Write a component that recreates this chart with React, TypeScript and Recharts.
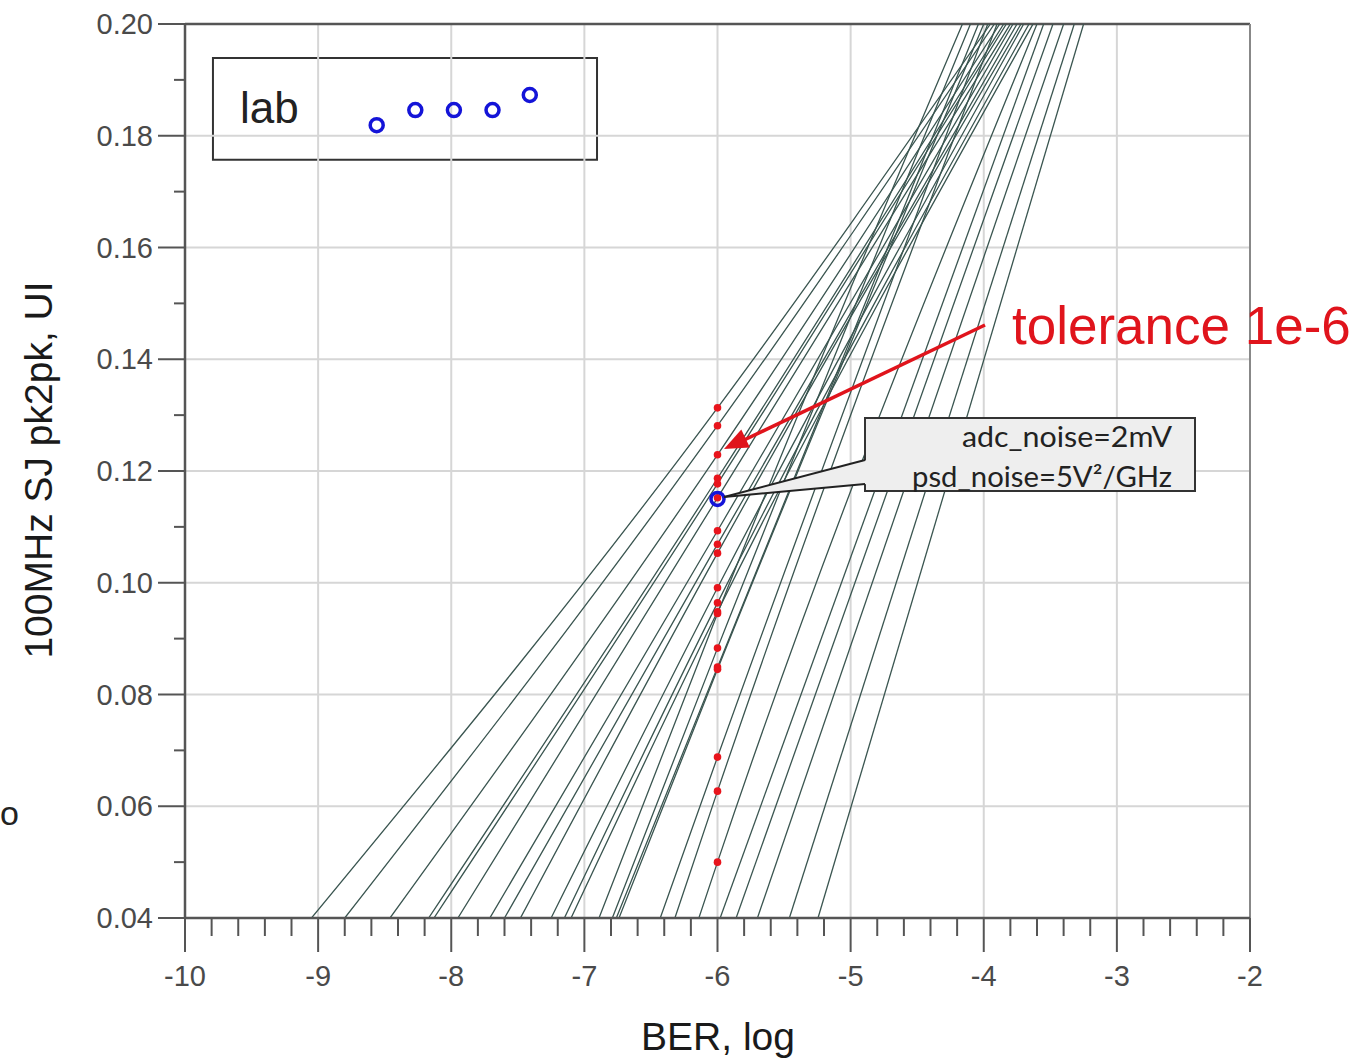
import React from 'react';
import {
  ComposedChart, Line, Scatter, XAxis, YAxis, ReferenceLine, ReferenceArea
} from 'recharts';

// BER (log) where each simulated sweep starts at the bottom of the plot (0.04 UI)
const FOOT_X = [-9.05, -8.80, -8.46, -8.17, -8.13, -7.95, -7.71, -7.60, -7.48, -7.25, -7.15, -7.10,
  -6.89, -6.79, -6.76, -6.74, -6.43, -6.32, -6.14, -5.98, -5.86, -5.70, -5.46, -5.245];
// SJ tolerance where each sweep crosses BER = 1e-6 (red markers)
const CROSS_Y = [0.1313, 0.1281, 0.1229, 0.1187, 0.1177, 0.1152, 0.1093, 0.1069, 0.1053, 0.0991, 0.0964, 0.0948,
  0.0945, 0.0883, 0.0849, 0.0845, 0.0688, 0.0627, 0.0500];
// BER where each sweep leaves the top of the plot (0.20 UI)
const TOP_X = [-3.95, -3.92, -3.88, -3.85, -3.83, -3.80, -3.78, -3.75, -3.72, -3.70, -3.66, -3.63,
  -4.16, -4.10, -4.04, -4.00, -3.97, -3.90, -3.60, -3.55, -3.48, -3.40, -3.32, -3.25];

const LAB_X = [-8.56, -8.27, -7.98, -7.69, -7.41];
const LAB_Y = [0.1819, 0.1846, 0.1846, 0.1846, 0.1873];
const TARGET = { x: -6, y: 0.115 };

const X_MAJOR = [-10, -9, -8, -7, -6, -5, -4, -3, -2];
const Y_MAJOR = [0.04, 0.06, 0.08, 0.10, 0.12, 0.14, 0.16, 0.18, 0.20];
const X_TICKS = Array.from({ length: 41 }, (_, i) => -10 + i * 0.2);
const Y_TICKS = Array.from({ length: 17 }, (_, i) => 0.04 + i * 0.01);

const sweeps = FOOT_X.map((f, i) => {
  const pts = [{ x: f, y: 0.04 }];
  if (i < CROSS_Y.length) pts.push({ x: -6, y: CROSS_Y[i] });
  pts.push({ x: TOP_X[i], y: 0.2 });
  return pts;
});
const crossPts = CROSS_Y.map(y => ({ x: -6, y }));
const labPts = LAB_X.map((x, i) => ({ x, y: LAB_Y[i] }));

const AXIS = '#555';
const SANS = '"Liberation Sans", Arial, sans-serif';
const TICK_FONT = { fontFamily: SANS, fontSize: 29, fill: '#4a4a4a' };

const XTick = (props: any) => {
  const { x, y, payload } = props;
  const v = payload.value;
  const major = Math.abs(v - Math.round(v)) < 1e-6;
  return (
    <g>
      <line x1={x} x2={x} y1={y} y2={y + (major ? 34 : 18)} stroke={AXIS} strokeWidth={2} />
      {major && <text x={x} y={y + 68} textAnchor="middle" {...TICK_FONT}>{Math.round(v)}</text>}
    </g>
  );
};

const YTick = (props: any) => {
  const { x, y, payload } = props;
  const v = Math.round(payload.value * 100);
  const major = v % 2 === 0;
  return (
    <g>
      <line x1={x} x2={x - (major ? 27 : 11)} y1={y} y2={y} stroke={AXIS} strokeWidth={2} />
      {major && <text x={x - 32} y={y + 10} textAnchor="end" {...TICK_FONT}>{(v / 100).toFixed(2)}</text>}
    </g>
  );
};

const RedDot = (p: any) => <circle cx={p.cx} cy={p.cy} r={3.8} fill="#e8141c" />;
const Ring = (p: any) => <circle cx={p.cx} cy={p.cy} r={6.5} fill="none" stroke="#1414d8" strokeWidth={3.5} />;

export default function App() {
  return (
    <div style={{ position: 'absolute', left: 0, top: 0, width: 1372, height: 1058, background: '#fff', overflow: 'hidden' }}>
      <ComposedChart width={1372} height={1058} margin={{ top: 24, right: 122, left: 0, bottom: 0 }}>
        <XAxis dataKey="x" type="number" domain={[-10, -2]} ticks={X_TICKS} interval={0} allowDataOverflow
          height={140} tickSize={0} tickMargin={0} tickLine={false} tick={<XTick />}
          axisLine={{ stroke: AXIS, strokeWidth: 2.5 }} />
        <YAxis dataKey="y" type="number" domain={[0.04, 0.2]} ticks={Y_TICKS} interval={0} allowDataOverflow
          width={185} tickSize={0} tickMargin={0} tickLine={false} tick={<YTick />}
          axisLine={{ stroke: AXIS, strokeWidth: 2.5 }} />

        {X_MAJOR.slice(1, -1).map(v => (
          <ReferenceLine key={'gx' + v} x={v} stroke="#d6d6d6" strokeWidth={2} />
        ))}
        {Y_MAJOR.slice(1, -1).map(v => (
          <ReferenceLine key={'gy' + v} y={v} stroke="#d6d6d6" strokeWidth={2} />
        ))}
        <ReferenceLine y={0.2} stroke={AXIS} strokeWidth={2.5} />
        <ReferenceLine x={-2} stroke="#888" strokeWidth={2} />

        <ReferenceArea x1={-9.79} x2={-6.905} y1={0.1757} y2={0.1939} fill="#fff" fillOpacity={0}
          stroke="#333" strokeWidth={2} ifOverflow="visible" />

        {sweeps.map((pts, i) => (
          <Line key={'s' + i} data={pts} dataKey="y" type="monotone" stroke="#3a5550" strokeWidth={1.3}
            dot={false} activeDot={false} isAnimationActive={false} />
        ))}
        <Scatter data={crossPts} dataKey="y" shape={<RedDot />} isAnimationActive={false} />
        <Scatter data={labPts} dataKey="y" shape={<Ring />} isAnimationActive={false} />
        <Scatter data={[TARGET]} dataKey="y" shape={<Ring />} isAnimationActive={false} />
      </ComposedChart>

      <svg width={1372} height={1058} style={{ position: 'absolute', left: 0, top: 0, pointerEvents: 'none' }}>
        <text x={240} y={123} fontFamily={SANS} fontSize={44} fill="#222">lab</text>

        <line x1={985} y1={325} x2={742} y2={441} stroke="#e0141c" strokeWidth={3.5} />
        <polygon points="724,449 749.9,447.6 741.3,429.6" fill="#e0141c" />
        <text x={1012} y={344} fontFamily={SANS} fontSize={53} fill="#e0141c">tolerance 1e-6</text>

        <rect x={865} y={418} width={330} height={73} fill="#eeeeee" stroke="#333" strokeWidth={2} />
        <polygon points="867,460 724,497 867,484" fill="#eeeeee" />
        <line x1={865} y1={460} x2={724} y2={497} stroke="#222" strokeWidth={2} />
        <line x1={865} y1={484} x2={724} y2={497} stroke="#222" strokeWidth={2} />
        <text x={1172} y={447} textAnchor="end" fontFamily="Lato, sans-serif" fontSize={28} fill="#222"
          textLength={210} lengthAdjust="spacingAndGlyphs">adc_noise=2mV</text>
        <text x={1172} y={487} textAnchor="end" fontFamily="Lato, sans-serif" fontSize={28} fill="#222"
          textLength={260} lengthAdjust="spacingAndGlyphs">psd_noise=5V²/GHz</text>

        <text transform="translate(52,470) rotate(-90)" textAnchor="middle"
          fontFamily={SANS} fontSize={39} fill="#1a1a1a">100MHz SJ pk2pk, UI</text>
        <text x={718} y={1050} textAnchor="middle"
          fontFamily={SANS} fontSize={39} fill="#1a1a1a">BER, log</text>
        <text x={0} y={825} fontFamily={SANS} fontSize={34} fill="#222">o</text>
      </svg>
    </div>
  );
}
